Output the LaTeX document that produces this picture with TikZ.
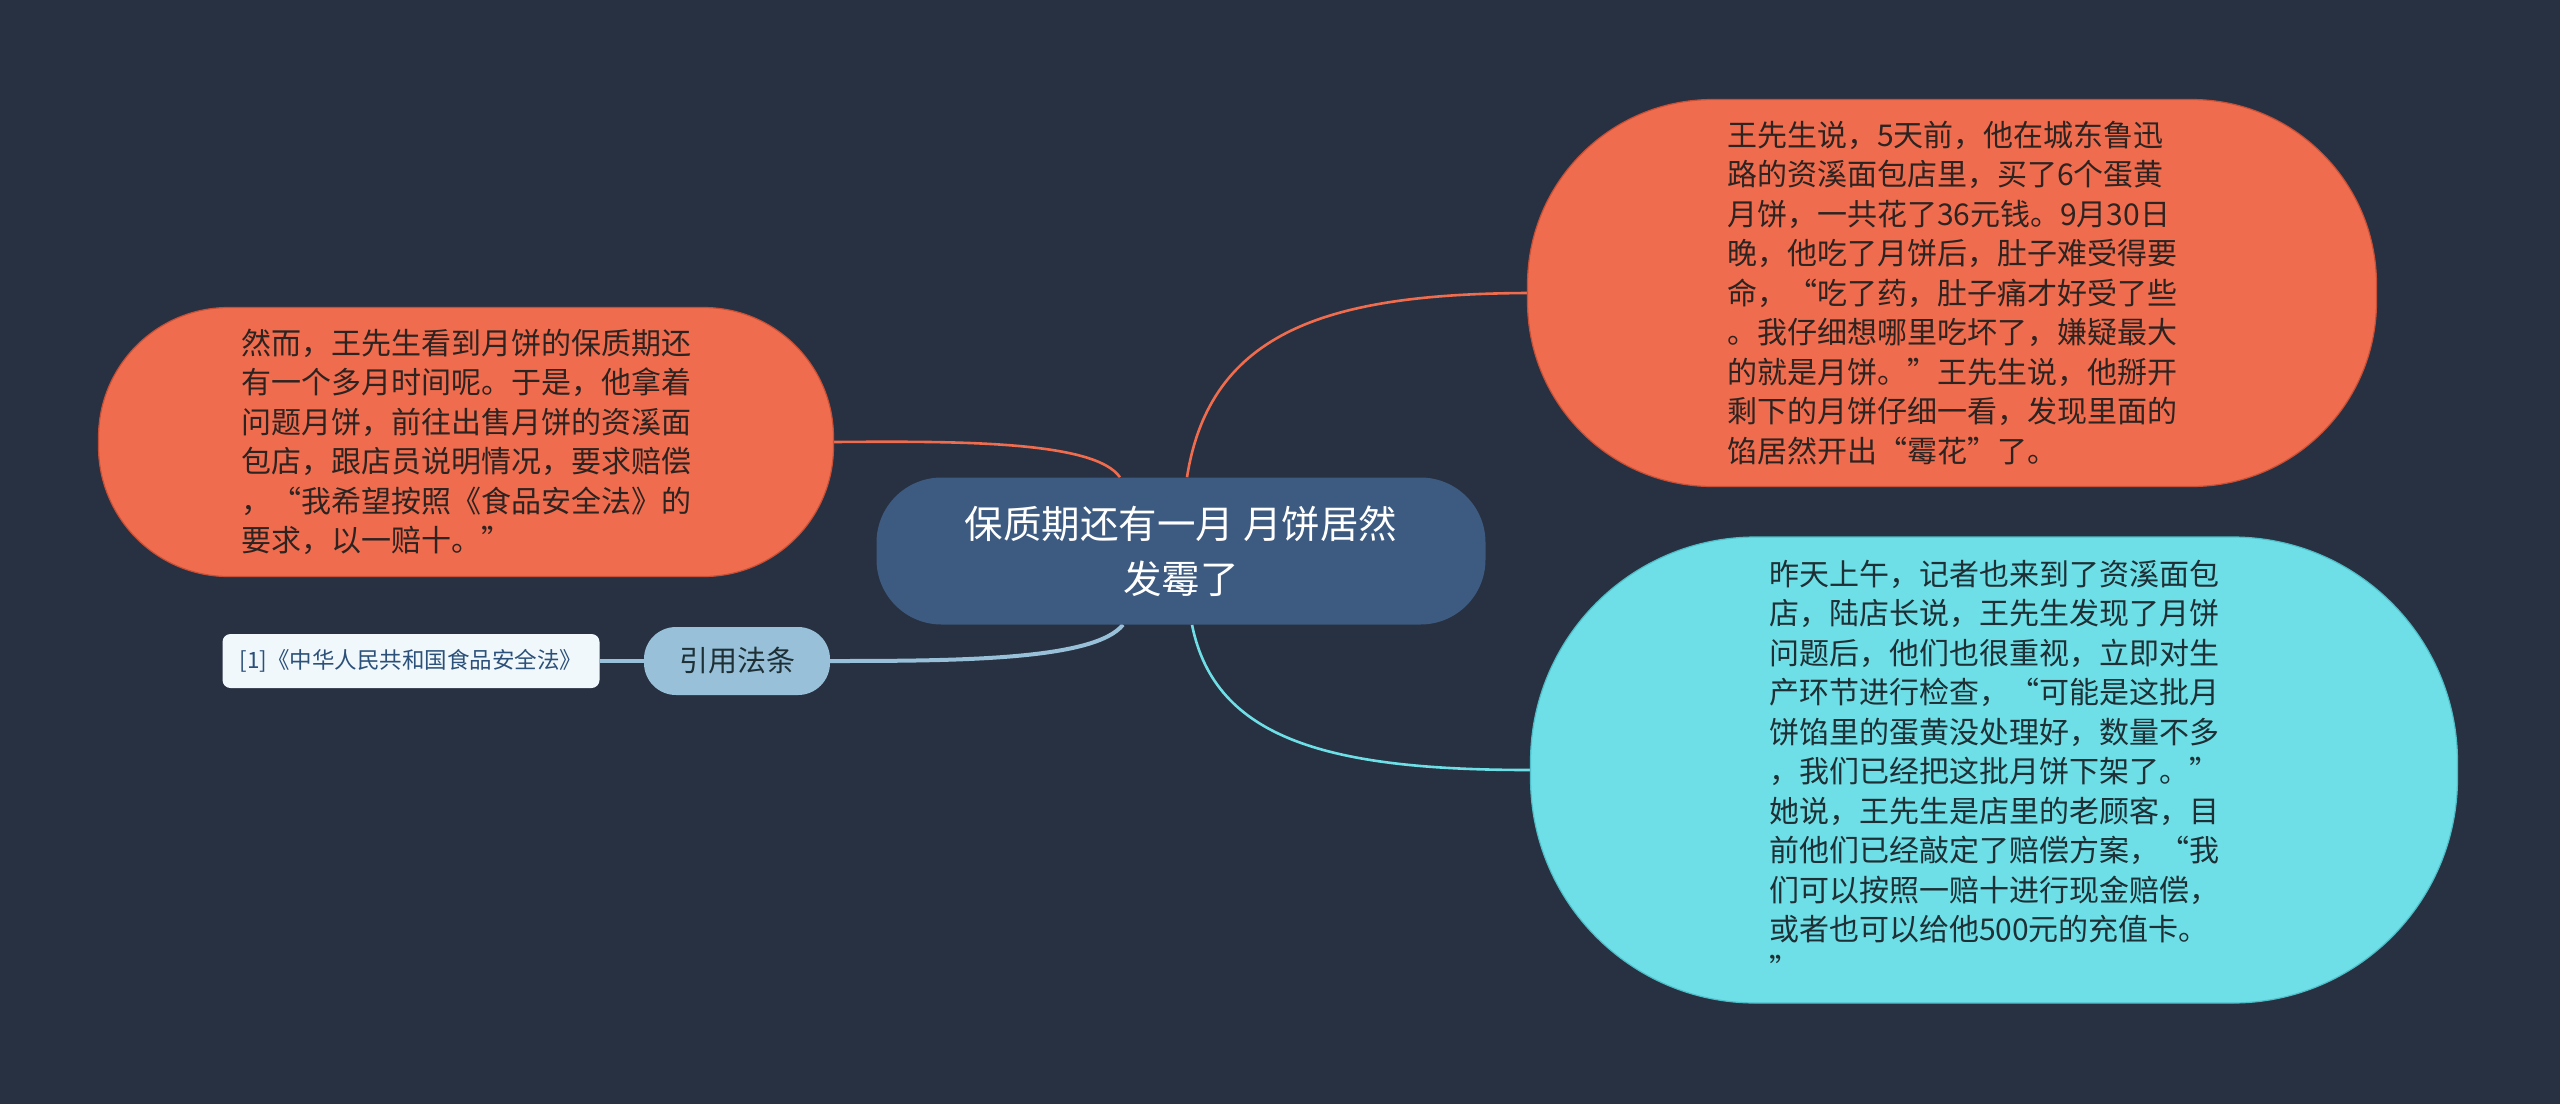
\documentclass[tikz,border=0pt]{standalone}
\usepackage{fontspec}
\setmainfont{Noto Sans CJK SC}
\usetikzlibrary{calc}
\definecolor{bgc}{RGB}{40,49,65}
\definecolor{orangec}{RGB}{239,108,78}
\definecolor{orangeedge}{RGB}{200,80,55}
\definecolor{centerc}{RGB}{61,90,128}
\definecolor{cyanc}{RGB}{110,223,230}
\definecolor{cyanedge}{RGB}{80,190,200}
\definecolor{lbluec}{RGB}{152,193,217}
\definecolor{labelc}{RGB}{240,248,252}
\definecolor{labeltext}{RGB}{43,80,121}
\definecolor{darktext}{RGB}{45,35,33}
\definecolor{cyantext}{RGB}{30,48,54}
\pgfdeclarelayer{bglayer}
\pgfdeclarelayer{edgelayer}
\pgfsetlayers{bglayer,edgelayer,main}
\tikzset{
  bigtext/.style={font=\fontsize{30}{39.5}\selectfont, align=left, inner sep=0pt},
  orangebox/.style={bigtext, fill=orangec, draw=orangeedge, line width=1.2pt, text=darktext},
  cyanbox/.style={bigtext, fill=cyanc, draw=cyanedge, line width=1.2pt, text=cyantext},
  centerbox/.style={fill=centerc, text=white, rounded corners=65pt, inner sep=0pt,
    font=\fontsize{38.5}{55}\selectfont, align=center},
  refbox/.style={fill=lbluec, text=cyantext, rounded corners=32pt, inner sep=0pt,
    font=\fontsize{29}{35}\selectfont},
  lawbox/.style={fill=labelc, text=labeltext, rounded corners=8pt, inner sep=0pt,
    font=\fontsize{22.5}{27}\selectfont},
  orangeline/.style={draw=orangec, line width=2.6pt},
  cyanline/.style={draw=cyanc, line width=2.6pt},
  blueline/.style={draw=lbluec, line width=4pt},
}
\begin{document}
\begin{tikzpicture}[x=1pt,y=-1pt]
\begin{pgfonlayer}{bglayer}
\fill[bgc] (0,0) rectangle (2560,1104);
\end{pgfonlayer}
\useasboundingbox (0,0) rectangle (2560,1104);

\node[centerbox, minimum width=609pt, minimum height=147pt] (center) at (1181,551)
  {保质期还有一月 月饼居然\\发霉了};

\node[orangebox, rounded corners=130pt, minimum width=735pt, minimum height=269pt] (lo) at (466,442)
  {然而，王先生看到月饼的保质期还\\
   有一个多月时间呢。于是，他拿着\\
   问题月饼，前往出售月饼的资溪面\\
   包店，跟店员说明情况，要求赔偿\\
   ，“我希望按照《食品安全法》的\\
   要求，以一赔十。”};

\node[orangebox, rounded corners=185pt, minimum width=849pt, minimum height=387pt] (ro) at (1952,293)
  {王先生说，5天前，他在城东鲁迅\\
   路的资溪面包店里，买了6个蛋黄\\
   月饼，一共花了36元钱。9月30日\\
   晚，他吃了月饼后，肚子难受得要\\
   命，“吃了药，肚子痛才好受了些\\
   。我仔细想哪里吃坏了，嫌疑最大\\
   的就是月饼。”王先生说，他掰开\\
   剩下的月饼仔细一看，发现里面的\\
   馅居然开出“霉花”了。};

\node[cyanbox, rounded corners=225pt, minimum width=927pt, minimum height=466pt] (cy) at (1994,770)
  {昨天上午，记者也来到了资溪面包\\
   店，陆店长说，王先生发现了月饼\\
   问题后，他们也很重视，立即对生\\
   产环节进行检查，“可能是这批月\\
   饼馅里的蛋黄没处理好，数量不多\\
   ，我们已经把这批月饼下架了。”\\
   她说，王先生是店里的老顾客，目\\
   前他们已经敲定了赔偿方案，“我\\
   们可以按照一赔十进行现金赔偿，\\
   或者也可以给他500元的充值卡。\\
   ”};

\node[refbox, minimum width=186pt, minimum height=68pt] (ref) at (737,661) {引用法条};
\node[lawbox, minimum width=377pt, minimum height=54pt] (law) at (411,661)
  {[1]《中华人民共和国食品安全法》};

\begin{pgfonlayer}{edgelayer}
\draw[orangeline] ($(center.north)+(6,0)$) .. controls (1210,330) and (1330,294) .. (ro.west);
\draw[cyanline] ($(center.south)+(11,0)$) .. controls (1215,740) and (1330,770) .. (cy.west);
\draw[orangeline] ($(center.north)+(-61,0)$) .. controls (1095,441) and (960,441) .. (lo.east);
\draw[blueline] ($(center.south)+(-58,0)$) .. controls (1095,660) and (960,661) .. (ref.east);
\draw[blueline] (law.east) -- (ref.west);
\end{pgfonlayer}
\end{tikzpicture}
\end{document}
